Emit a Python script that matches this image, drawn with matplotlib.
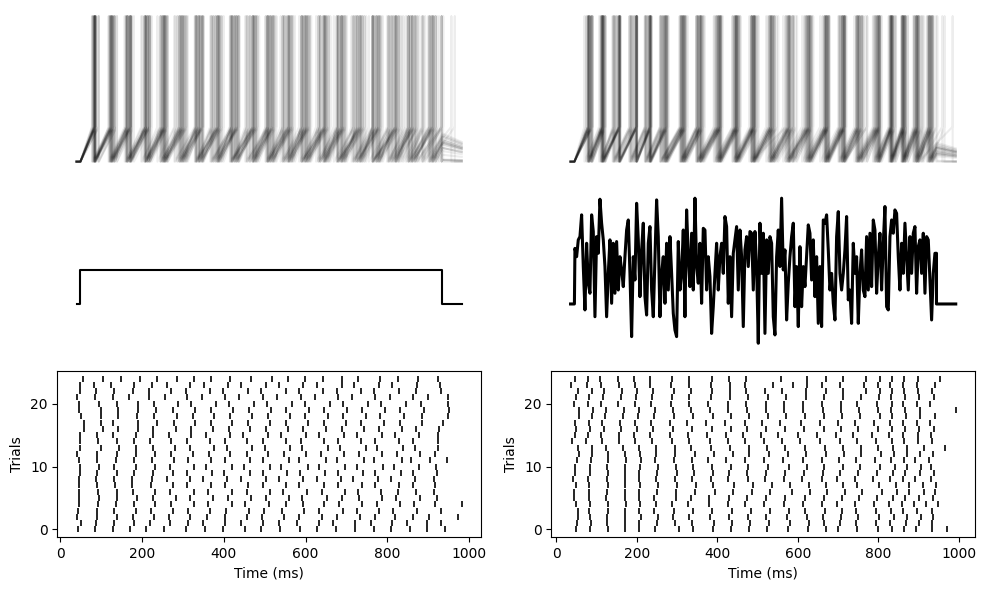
import matplotlib
matplotlib.use("Agg")
import matplotlib.pyplot as plt
import numpy as np

# ---------------- data ----------------
T_END = 1000.0          # ms, trace length
STIM_ON = 10.0          # ms
STIM_OFF = 950.0        # ms
STEP_AMP = 200.0        # pA

V_RESET = -75.0         # mV
V_TH = -55.0
V_PEAK = 8.0
RAMP_MS = 46.0          # typical inter-spike interval, used only for the tail after stimulus off

# spike times (ms) per trial, step-current condition
STEP_SPIKES = [
    [44, 85, 128, 171, 210, 254, 307, 354, 398, 451, 491, 538, 586, 629, 675, 720, 768, 809, 855, 898, 941],
    [51, 87, 131, 181, 219, 268, 312, 350, 404, 443, 497, 536, 578, 633, 668, 721, 759, 812, 849, 897, 932],
    [40, 89, 140, 177, 229, 266, 318, 360, 402, 457, 494, 548, 584, 641, 676, 734, 769, 820, 862, 901, 973],
    [44, 91, 132, 185, 222, 275, 313, 366, 405, 461, 499, 543, 597, 633, 691, 725, 779, 815, 872, 932],
    [46, 93, 136, 180, 231, 272, 327, 361, 419, 452, 510, 551, 594, 646, 683, 738, 774, 830, 866, 917, 982],
    [46, 95, 138, 187, 228, 283, 318, 373, 410, 466, 503, 559, 592, 652, 688, 731, 788, 822, 879, 922],
    [47, 93, 140, 179, 233, 269, 326, 362, 421, 457, 512, 546, 603, 641, 697, 729, 785, 826, 870, 915],
    [47, 89, 133, 176, 222, 276, 309, 368, 402, 459, 496, 551, 584, 644, 680, 738, 770, 828, 862, 917],
    [47, 88, 132, 176, 224, 262, 318, 350, 409, 441, 503, 535, 593, 628, 687, 717, 778, 810, 867, 913],
    [49, 90, 138, 180, 227, 276, 310, 371, 400, 463, 497, 555, 587, 648, 679, 741, 769, 834, 863, 922],
    [48, 96, 132, 185, 231, 268, 327, 356, 420, 449, 512, 540, 606, 632, 697, 726, 789, 817, 878, 920],
    [45, 91, 136, 180, 225, 279, 313, 370, 403, 465, 495, 559, 584, 650, 678, 743, 768, 836, 858, 905, 947],
    [42, 91, 140, 185, 233, 272, 324, 364, 416, 457, 509, 548, 602, 638, 695, 730, 786, 823, 880, 917],
    [48, 99, 144, 185, 226, 280, 317, 377, 408, 470, 500, 562, 592, 655, 684, 747, 775, 838, 868, 925],
    [49, 93, 140, 180, 219, 271, 311, 366, 404, 458, 497, 551, 588, 645, 679, 736, 771, 829, 862, 925],
    [49, 91, 128, 185, 228, 266, 321, 356, 416, 448, 509, 540, 601, 632, 694, 725, 786, 818, 878, 925],
    [58, 105, 142, 191, 226, 282, 320, 373, 412, 465, 503, 557, 595, 649, 688, 743, 779, 836, 871, 927],
    [58, 99, 130, 191, 237, 278, 330, 368, 421, 460, 513, 552, 606, 644, 699, 736, 791, 830, 886, 936],
    [50, 99, 141, 189, 230, 286, 324, 377, 415, 469, 507, 562, 599, 655, 691, 748, 783, 841, 884, 948],
    [47, 99, 142, 190, 235, 275, 329, 368, 423, 461, 516, 553, 609, 646, 702, 739, 795, 831, 890, 952],
    [46, 95, 140, 190, 229, 289, 321, 382, 413, 474, 506, 567, 598, 659, 691, 752, 784, 845, 882, 948],
    [41, 85, 129, 168, 217, 256, 311, 347, 404, 438, 496, 530, 588, 622, 680, 714, 771, 806, 862, 899, 948],
    [48, 87, 132, 178, 218, 272, 308, 366, 399, 459, 491, 551, 583, 643, 676, 735, 768, 829, 871, 932],
    [49, 83, 125, 180, 224, 261, 317, 352, 411, 443, 503, 535, 595, 627, 688, 719, 780, 811, 873, 928],
    [56, 105, 149, 195, 237, 285, 327, 370, 416, 467, 519, 556, 599, 642, 688, 729, 781, 827, 874, 924],
]

# spike times (ms) per trial, noisy-current condition
NOISE_SPIKES = [
    [49, 84, 128, 172, 207, 245, 304, 341, 390, 434, 479, 524, 576, 625, 671, 700, 747, 798, 835, 864, 893, 934, 971],
    [51, 86, 127, 171, 206, 250, 296, 337, 392, 436, 481, 528, 580, 627, 666, 705, 745, 793, 830, 868, 900, 932],
    [54, 85, 126, 172, 210, 252, 290, 331, 383, 430, 477, 520, 572, 622, 663, 706, 750, 801, 840, 870, 905, 936],
    [55, 83, 128, 170, 207, 242, 293, 340, 388, 437, 483, 530, 578, 618, 668, 710, 745, 795, 832, 861, 897, 933],
    [49, 84, 129, 173, 208, 247, 287, 327, 380, 426, 470, 515, 566, 612, 660, 698, 742, 790, 826, 858, 889, 917, 949],
    [45, 82, 125, 171, 205, 244, 298, 336, 379, 429, 474, 521, 569, 618, 665, 709, 751, 796, 836, 866, 902, 936],
    [45, 81, 127, 172, 207, 250, 297, 345, 395, 440, 486, 531, 585, 630, 673, 716, 760, 808, 845, 876, 914, 940],
    [49, 83, 128, 172, 208, 253, 300, 348, 390, 441, 488, 535, 580, 627, 669, 712, 748, 802, 844, 876, 910, 943],
    [42, 80, 126, 170, 207, 248, 294, 337, 384, 428, 477, 518, 565, 610, 660, 697, 741, 787, 829, 860, 892, 931],
    [46, 84, 128, 172, 206, 250, 300, 343, 390, 430, 475, 521, 568, 616, 663, 705, 750, 797, 836, 866, 903, 939],
    [47, 85, 127, 171, 209, 254, 297, 339, 387, 435, 476, 527, 577, 622, 665, 711, 755, 803, 841, 871, 907, 930],
    [53, 86, 129, 173, 210, 246, 292, 338, 377, 423, 469, 516, 563, 613, 660, 702, 744, 791, 832, 863, 892, 925],
    [57, 88, 130, 172, 208, 249, 296, 344, 391, 438, 480, 529, 575, 620, 671, 714, 757, 806, 838, 870, 904, 935],
    [55, 90, 125, 167, 205, 247, 294, 335, 384, 431, 478, 524, 568, 617, 668, 713, 757, 800, 837, 870, 912, 965],
    [40, 74, 115, 157, 196, 239, 288, 330, 381, 426, 470, 516, 562, 606, 656, 704, 746, 793, 835, 863, 899, 932],
    [46, 80, 112, 156, 193, 233, 283, 327, 374, 421, 464, 508, 552, 601, 648, 695, 737, 785, 827, 862, 898, 930],
    [49, 84, 119, 162, 201, 240, 291, 338, 386, 433, 475, 521, 568, 615, 664, 706, 749, 798, 833, 867, 902, 938],
    [47, 82, 114, 158, 197, 235, 284, 326, 372, 420, 468, 512, 557, 608, 654, 700, 742, 790, 830, 862, 896, 927],
    [57, 90, 122, 166, 203, 244, 293, 339, 390, 434, 478, 525, 570, 619, 666, 710, 755, 803, 835, 869, 903, 940],
    [57, 91, 125, 168, 205, 246, 290, 334, 382, 428, 475, 521, 566, 614, 662, 708, 752, 799, 832, 866, 904, 992],
    [45, 79, 111, 153, 195, 236, 286, 330, 378, 426, 472, 520, 565, 612, 661, 708, 746, 796, 834, 860, 895, 928],
    [49, 83, 116, 160, 199, 238, 287, 331, 385, 431, 477, 525, 570, 621, 665, 712, 758, 801, 832, 866, 900, 938],
    [54, 88, 120, 163, 201, 241, 292, 336, 387, 432, 472, 518, 560, 620, 670, 711, 770, 803, 833, 864, 899, 932],
    [36, 77, 112, 156, 195, 234, 286, 329, 385, 431, 470, 539, 588, 623, 660, 705, 765, 800, 830, 861, 897, 941],
    [47, 80, 109, 153, 193, 232, 289, 331, 388, 429, 471, 559, 623, 671, 711, 770, 803, 833, 863, 899, 952],
]

# noisy input current (pA), sampled on a regular grid between these times
NOISE_T0, NOISE_T1 = 11.4, 946.0
NOISE_I = [
    327, 278, 377, 396, 524, 220, -35, 357, 122, 63, 524, 426, -75, 396, 298, 616, 475, 377, 220, -75,
    180, 377, 4, 357, 63, 367, 82, 278, 200, 102, 278, 435, 494, 180, -192, 278, 141, 592, 377, 43,
    318, 475, 43, -65, 357, 455, 82, -75, 278, 612, 396, -75, 180, 278, 4, 357, 82, 396, 180, -55,
    -153, -192, 367, 82, 180, 435, -75, 553, 278, 102, 416, 82, 622, 220, 122, 357, 4, 445, 435, 82,
    278, 161, -173, -16, 180, 357, 82, 278, 357, 180, 514, 455, 4, 278, -75, 298, 377, 455, 82, 435,
    278, -133, 318, 396, 220, 426, 416, 82, 426, 220, -231,
    475, 180, 416, -173, 377, 180, 396, 357, -75, -182, 278, 435, 220, 622, 200, 318, -94, 122, 278, 396,
    475, -16, 220, -133, 337, -16, 220, 102, 278, 465, 416, 141, 377, 43, 278, -114, 220, -133, 494, 475,
    524, 318, 82, 180, 4, -94, 396, 543, 180, 82, 180, 318, 514, 24, 82, -114, 357, 180, 278, -114,
    180, 318, 82, 43, 396, 82, 416, 102, 494, 435, 63, 278, 416, 82, 357, 573, -16, -35, 396, 494,
    416, 553, 533, 278, 82, 357, 180, 475, 278, 82, 396, 180, 416, 455, 63, 337, 377, 180, 416, 63,
    396, 377, 141, -94, 180, 298,
]

# ---------------- layout ----------------
W, H = 987, 590
fig = plt.figure(figsize=(W / 100, H / 100), dpi=100)


def px_axes(x0, y0, x1, y1):
    return fig.add_axes([x0 / W, 1 - y1 / H, (x1 - x0) / W, (y1 - y0) / H])


COLS = [(57.3, 481.0), (551.3, 975.0)]
ROWS = [(7.0, 173.0), (189.0, 355.0), (371.0, 537.0)]


def volt_trace(spikes):
    t = [0.0, STIM_ON]
    v = [V_RESET, V_RESET]
    for s in spikes:
        t += [s, s, s]
        v += [V_TH, V_PEAK, V_RESET]
    last = spikes[-1]
    if last < STIM_OFF:
        v_off = min(V_TH, V_RESET + (V_TH - V_RESET) * (STIM_OFF - last) / RAMP_MS)
        t += [STIM_OFF, T_END]
        v += [v_off, v_off - 0.3 * (v_off - V_RESET)]
    else:
        t.append(T_END)
        v.append(V_RESET)
    return t, v


# step current
step_t = [0.0, STIM_ON, STIM_ON, STIM_OFF, STIM_OFF, T_END]
step_i = [0.0, 0.0, STEP_AMP, STEP_AMP, 0.0, 0.0]

# noisy current
noise_grid = list(np.linspace(NOISE_T0, NOISE_T1, len(NOISE_I)))
noise_t = [0.0, STIM_ON] + noise_grid + [STIM_OFF, STIM_OFF, T_END]
noise_i = [0.0, 0.0] + list(NOISE_I) + [NOISE_I[-1], 0.0, 0.0]

conditions = [
    (STEP_SPIKES, step_t, step_i, 1.5),
    (NOISE_SPIKES, noise_t, noise_i, 2.2),
]

for (x0, x1), (spikes, it, iv, lw) in zip(COLS, conditions):
    # voltage traces
    ax = px_axes(x0, ROWS[0][0], x1, ROWS[0][1])
    for sp in spikes:
        t, v = volt_trace(sp)
        ax.plot(t, v, color="k", alpha=0.07, lw=1.5)
    ax.set_xlim(-50, 1050)
    ax.set_ylim(-81.5, 13.4)
    ax.axis("off")

    # input current
    ax = px_axes(x0, ROWS[1][0], x1, ROWS[1][1])
    ax.plot(it, iv, color="k", lw=lw)
    ax.set_xlim(-50, 1050)
    ax.set_ylim(-300, 676)
    ax.axis("off")

    # raster
    ax = px_axes(x0, ROWS[2][0], x1, ROWS[2][1])
    for k, sp in enumerate(spikes):
        ax.plot(sp, [k] * len(sp), "|", color="k", ms=5, mew=1.2)
    ax.set_xticks([0, 200, 400, 600, 800, 1000])
    ax.set_yticks([0, 10, 20])
    ax.set_xlabel("Time (ms)")
    ax.set_ylabel("Trials")

fig.savefig("out.png", dpi=100)
